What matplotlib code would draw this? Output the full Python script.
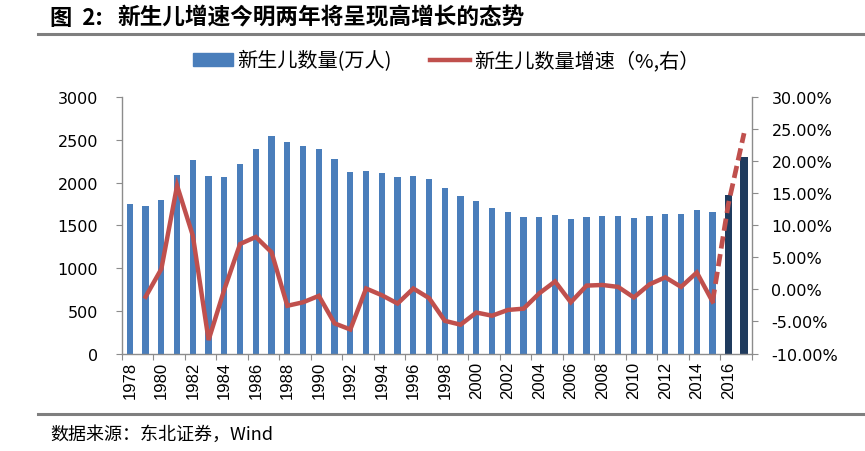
import matplotlib
matplotlib.use('Agg')
import matplotlib.pyplot as plt
from matplotlib.lines import Line2D
from matplotlib.patches import Patch
from matplotlib.ticker import FuncFormatter, FixedLocator

plt.rcParams['font.family'] = ['Noto Sans CJK SC', 'DejaVu Sans']
plt.rcParams['axes.unicode_minus'] = False

# data
years = list(range(1978, 2018))
births = [1746, 1727, 1793, 2094, 2262, 2078, 2063, 2219, 2398, 2551,
          2473, 2430, 2398, 2273, 2125, 2137, 2109, 2066, 2082, 2047,
          1940, 1840, 1781, 1699, 1656, 1594, 1594, 1621, 1578, 1594,
          1605, 1605, 1590, 1605, 1637, 1637, 1680, 1652, 1852, 2297]
forecast_years = [2016, 2017]
# growth rate (%), from 1979 on
growth_years = years[1:]
growth = [-1.15, 3.2, 16.2, 8.4, -7.9, 0.0, 7.1, 8.2, 5.8, -2.55,
          -2.0, -1.0, -5.3, -6.25, 0.15, -0.9, -2.2, 0.15, -1.35, -4.9,
          -5.5, -3.6, -4.1, -3.2, -3.0, -0.6, 1.25, -2.0, 0.6, 0.7,
          0.4, -1.25, 0.8, 1.9, 0.4, 2.65, -1.9, 13.3, 24.4]

blue = '#4A7EBB'
dark = '#1F3B5E'
red = '#C0504D'
grey = '#8C8C8C'

fig = plt.figure(figsize=(8.65, 4.52), dpi=100)
ax1 = fig.add_axes([0.141, 0.2157, 0.7283, 0.5668])

hist_x = [y for y in years if y not in forecast_years]
hist_b = [b for y, b in zip(years, births) if y not in forecast_years]
fc_b = [b for y, b in zip(years, births) if y in forecast_years]
ax1.bar(hist_x, hist_b, width=0.4, color=blue, zorder=2)
ax1.bar(forecast_years, fc_b, width=0.46, color=dark, zorder=2)

ax1.set_xlim(1977.5, 2017.5)
ax1.set_ylim(0, 3000)
ax1.set_yticks(range(0, 3001, 500))

ax1.xaxis.set_major_locator(FixedLocator(years[::2]))
ax1.set_xticklabels([str(y) for y in years[::2]], rotation=90,
                    family='Liberation Sans', fontsize=12)
ax1.xaxis.set_minor_locator(FixedLocator([1977.5 + 2 * k for k in range(21)]))
ax1.tick_params(axis='x', which='major', length=0, pad=5)
ax1.tick_params(axis='x', which='minor', length=4, color=grey, width=0.8)
ax1.tick_params(axis='y', length=4, color=grey, width=0.8, pad=13,
                labelsize=11.5)
for lab in ax1.get_yticklabels():
    lab.set_family('DejaVu Sans')

for s in ['top', 'right']:
    ax1.spines[s].set_visible(False)
for s in ['left', 'bottom']:
    ax1.spines[s].set_color(grey)
    ax1.spines[s].set_linewidth(1.0)

ax2 = ax1.twinx()
n_solid = growth_years.index(2015) + 1
ax2.plot(growth_years[:n_solid], growth[:n_solid], color=red, lw=3.2,
         solid_joinstyle='miter')
ax2.plot(growth_years[n_solid - 1:], growth[n_solid - 1:], color=red, lw=3.4,
         dashes=(2.6, 1.2))
ax2.set_ylim(-10, 30)
ax2.set_yticks(range(-10, 31, 5))
ax2.yaxis.set_major_formatter(FuncFormatter(lambda v, p: f'{v:.2f}%'))
ax2.tick_params(axis='y', length=4, color=grey, width=0.8, pad=10,
                labelsize=11.5)
for lab in ax2.get_yticklabels():
    lab.set_family('DejaVu Sans')
for s in ['top', 'left', 'bottom']:
    ax2.spines[s].set_visible(False)
ax2.spines['right'].set_color(grey)
ax2.spines['right'].set_linewidth(1.0)

handles = [Patch(color=blue), Line2D([], [], color=red, lw=3.2)]
fig.legend(handles, ['新生儿数量(万人)', '新生儿数量增速（%,右）'],
           loc='center', bbox_to_anchor=(0.516, 0.863), ncol=2,
           frameon=False, fontsize=14.5, handlelength=2.0, handleheight=0.6,
           handletextpad=0.2, columnspacing=1.9)

# title, rules and source
fig.text(0.058, 0.96, '图  2:', fontsize=16, fontweight='bold', va='center')
fig.text(0.136, 0.96, '新生儿增速今明两年将呈现高增长的态势', fontsize=16.3,
         fontweight='bold', va='center')
fig.add_artist(Line2D([0.044, 1.0], [0.9226, 0.9226], color='#7F7F7F', lw=2.2))
fig.add_artist(Line2D([0.044, 1.0], [0.0819, 0.0819], color='#7F7F7F', lw=2.2))
fig.text(0.058, 0.0376, '数据来源：东北证券，Wind', fontsize=13, va='center')

fig.savefig('out.png', dpi=100)
